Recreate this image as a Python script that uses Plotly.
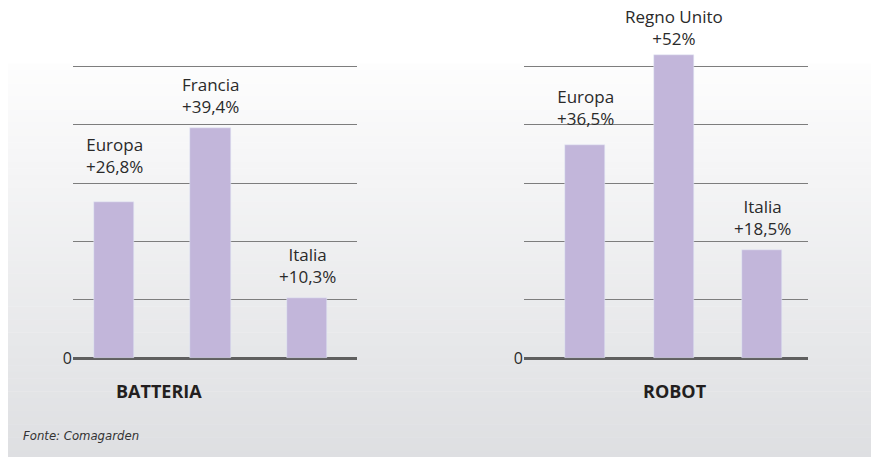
import plotly.graph_objects as go

# ---- data ----
batteria_countries = ["Europa", "Francia", "Italia"]
batteria_values = [26.8, 39.4, 10.3]
batteria_labels = ["+26,8%", "+39,4%", "+10,3%"]

robot_countries = ["Europa", "Regno Unito", "Italia"]
robot_values = [36.5, 52.0, 18.5]
robot_labels = ["+36,5%", "+52%", "+18,5%"]

panel_titles = ["BATTERIA", "ROBOT"]
source_text = "Fonte: Comagarden"
y_ticks = [0, 10, 20, 30, 40, 50]
y_ticktext = ["0", "", "", "", "", ""]

# ---- style ----
W, H = 871, 468
BAR = "#c2b6da"
GRID = "#7d7d7d"
BASE = "#5f5f5f"
TXT = "#2a2a2a"
FONT = "Open Sans"

fig = go.Figure()

fig.add_trace(go.Bar(x=batteria_countries, y=batteria_values, marker_color=BAR,
                     width=0.415, xaxis="x", yaxis="y", hoverinfo="skip"))
fig.add_trace(go.Bar(x=robot_countries, y=robot_values, marker_color=BAR,
                     width=0.452, xaxis="x2", yaxis="y2", hoverinfo="skip"))

# value labels above bars (label offsets in pixels)
left_shift = [22, 8, 8]
right_shift = [13, 3, 8]
ann = []
for c, v, l, s in zip(batteria_countries, batteria_values, batteria_labels, left_shift):
    ann.append(dict(x=c, y=v, xref="x", yref="y", text=f"{c}<br>{l}", showarrow=False,
                    yanchor="bottom", yshift=s, font=dict(family=FONT, size=17, color=TXT)))
for c, v, l, s in zip(robot_countries, robot_values, robot_labels, right_shift):
    ann.append(dict(x=c, y=v, xref="x2", yref="y2", text=f"{c}<br>{l}", showarrow=False,
                    yanchor="bottom", yshift=s, font=dict(family=FONT, size=17, color=TXT)))

# panel titles
for t, px in zip(panel_titles, [159, 675]):
    ann.append(dict(x=px / W, y=1 - 400 / H, xref="paper", yref="paper", text=f"<b>{t}</b>",
                    showarrow=False, xanchor="center", yanchor="middle",
                    font=dict(family=FONT, size=18, color="#231f20")))
ann.append(dict(x=21 / W, y=1 - 446 / H, xref="paper", yref="paper", text=f"<i>{source_text}</i>",
                showarrow=False, xanchor="left", yanchor="middle",
                font=dict(family="DejaVu Sans Condensed", size=13, color="#333333")))

# background gradient
shapes = []
top_px, bot_px = 65, 468
n = 60
c0 = (253, 253, 253)
c1 = (222, 223, 226)
for i in range(n):
    f = i / (n - 1)
    col = tuple(round(a + (b - a) * f) for a, b in zip(c0, c1))
    y0 = top_px + (bot_px - top_px) * i / n
    y1 = top_px + (bot_px - top_px) * (i + 1) / n
    shapes.append(dict(type="rect", xref="paper", yref="paper", x0=8 / W, x1=1,
                       y0=max(0, 1 - y1 / H - 0.001), y1=1 - y0 / H, line=dict(width=0),
                       fillcolor="rgb(%d,%d,%d)" % col, layer="below"))

ydom = [1 - 367 / H, 1 - 40 / H]
yrange = [0, (367 - 40) / 5.98]

yax = dict(domain=ydom, range=yrange, tickvals=y_ticks, ticktext=y_ticktext, showgrid=True,
           gridcolor=GRID, gridwidth=1.3, zeroline=True, zerolinecolor=BASE, zerolinewidth=2.6,
           showline=False, ticks="", tickfont=dict(family=FONT, size=16, color=TXT), fixedrange=True)

fig.update_layout(
    width=W, height=H, margin=dict(l=0, r=0, t=0, b=0),
    paper_bgcolor="white", plot_bgcolor="rgba(0,0,0,0)",
    showlegend=False, bargap=0,
    xaxis=dict(domain=[73 / W, 357 / W], range=[-0.425, 2.518], showticklabels=False,
               showgrid=False, zeroline=False, showline=False, ticks=""),
    xaxis2=dict(domain=[524 / W, 808 / W], range=[-0.691, 2.518], showticklabels=False,
                showgrid=False, zeroline=False, showline=False, ticks=""),
    yaxis=yax,
    yaxis2=dict(yax, anchor="x2"),
    annotations=ann,
    shapes=shapes,
)
fig.write_html("out.html")
